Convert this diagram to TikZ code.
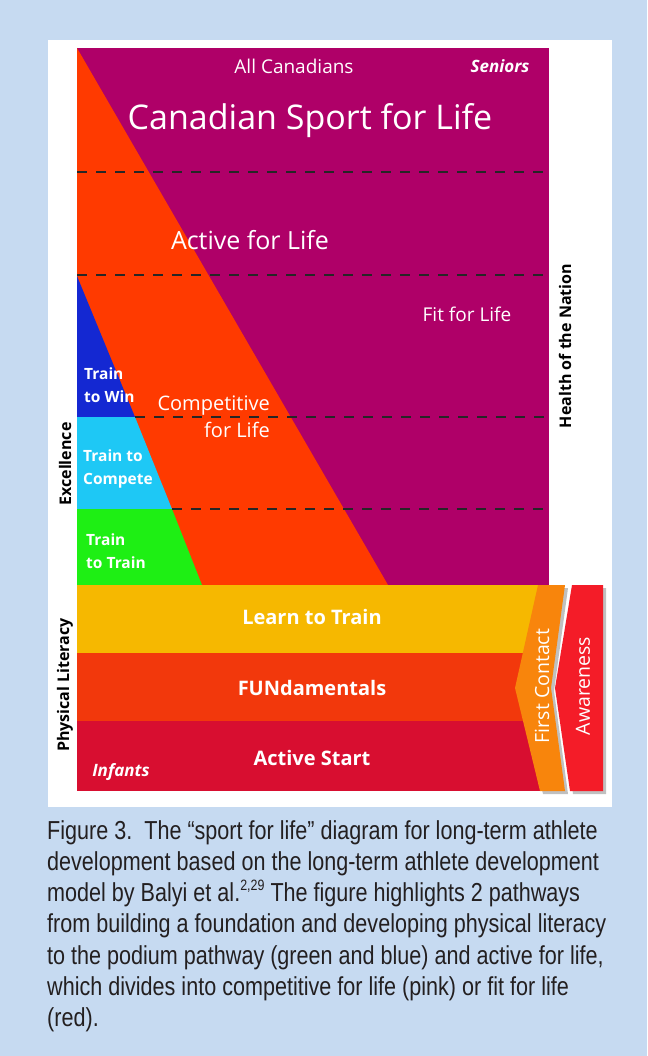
\documentclass[tikz,border=0pt]{standalone}
\usepackage{fontspec}
\setmainfont{Open Sans}
\newfontfamily\capfont[FakeStretch=0.83]{Liberation Sans}
\usetikzlibrary{shadows}

\definecolor{bgblue}{HTML}{C6DAF1}
\definecolor{plum}{HTML}{AF0068}
\definecolor{flame}{HTML}{FF3A00}
\definecolor{winblue}{HTML}{1428D2}
\definecolor{skyblue}{HTML}{1EC8F5}
\definecolor{limeg}{HTML}{1EEF14}
\definecolor{gold}{HTML}{F6B800}
\definecolor{fundred}{HTML}{F2380C}
\definecolor{crimson}{HTML}{D80E30}
\definecolor{contact}{HTML}{F8850C}
\definecolor{aware}{HTML}{F41C28}
\definecolor{captext}{HTML}{231F20}

\tikzset{
  lbl/.style={text=white, inner sep=0pt},
  stagelbl/.style={text=white, inner sep=0pt, anchor=west, align=left,
    font=\bfseries\fontsize{15.5}{22.5}\selectfont},
  bandlbl/.style={text=white, inner sep=0pt, font=\bfseries\fontsize{20}{24}\selectfont},
  sidelbl/.style={text=black, inner sep=0pt, rotate=90, font=\bfseries\fontsize{16}{20}\selectfont},
  arrowlbl/.style={text=white, inner sep=0pt, rotate=90, font=\fontsize{19.5}{22}\selectfont},
  stagedash/.style={draw=black!85, line width=1.2pt, dash pattern=on 10pt off 9pt},
  capline/.style={text=captext, inner sep=0pt, anchor=base west,
    font=\capfont\fontsize{26}{31.3}\selectfont},
  chevshadow/.style={drop shadow={shadow xshift=3pt, shadow yshift=-3pt, opacity=0.35, fill=black!70}}
}

\begin{document}
\begin{tikzpicture}[x=1pt,y=-1pt]
  % page and panel
  \fill[bgblue] (0,0) rectangle (647,1056);
  \fill[white] (48,40) rectangle (612,807);

  % upper block: active for life / fit for life
  \fill[plum] (77,48) rectangle (549,585);
  \fill[flame] (77,48) -- (388,585) -- (77,585) -- cycle;
  % podium pathway
  \fill[winblue] (77,276) -- (135,417) -- (77,417) -- cycle;
  \fill[skyblue] (77,417) -- (135,417) -- (172,509) -- (77,509) -- cycle;
  \fill[limeg] (77,509) -- (172,509) -- (202,585) -- (77,585) -- cycle;

  % stage boundaries
  \coordinate (d1l) at (77,172);  \coordinate (d1r) at (549,172);
  \coordinate (d2l) at (77,275);  \coordinate (d2r) at (549,275);
  \coordinate (d3l) at (135,417); \coordinate (d3r) at (549,417);
  \coordinate (d4l) at (172,509); \coordinate (d4r) at (549,509);
  \draw[stagedash] (d1l) -- (d1r);
  \draw[stagedash] (d2l) -- (d2r);
  \draw[stagedash] (d3l) -- (d3r);
  \draw[stagedash] (d4l) -- (d4r);

  % foundation bands
  \fill[gold] (77,585) rectangle (545,653);
  \fill[fundred] (77,653) rectangle (545,721);
  \fill[crimson] (77,721) rectangle (545,791);

  % entry chevrons
  \fill[contact, chevshadow] (538,585) -- (565,585) -- (551,688) -- (565,791)
    -- (540,791) -- (515,688) -- cycle;
  \fill[aware, chevshadow] (572,585) -- (603,585) -- (603,791) -- (570,791)
    -- (555,688) -- cycle;

  % labels in the upper block
  \node[lbl, font=\fontsize{19}{22}\selectfont] (allcan) at (294,66) {All Canadians};
  \node[lbl, font=\bfseries\itshape\fontsize{17}{20}\selectfont] (seniors) at (500,66) {Seniors};
  \node[lbl, font=\fontsize{34}{40}\selectfont] (csfl) at (310,121) {Canadian Sport for Life};
  \node[lbl, font=\fontsize{25}{30}\selectfont] (afl) at (250,240) {Active for Life};
  \node[lbl, font=\fontsize{19}{22}\selectfont] (ffl) at (467,314) {Fit for Life};
  \node[lbl, anchor=east, align=right, font=\fontsize{20}{27}\selectfont] (cfl)
    at (270,417) {Competitive\\for Life};

  % podium stages
  \node[stagelbl] (ttw) at (84,385) {Train\\to Win};
  \node[stagelbl] (ttc) at (83,469) {Train to\\Compete};
  \node[stagelbl] (ttt) at (86,551) {Train\\to Train};

  % foundation stages
  \node[bandlbl] (ltt) at (312,617) {Learn to Train};
  \node[bandlbl] (fun) at (312,688) {FUNdamentals};
  \node[bandlbl] (as) at (312,758) {Active Start};
  \node[lbl, font=\bfseries\itshape\fontsize{17}{20}\selectfont] (inf) at (121,772) {Infants};

  % side captions
  \node[sidelbl] (exc) at (65,464) {Excellence};
  \node[sidelbl] (pl) at (65,685) {Physical Literacy};
  \node[sidelbl] (hon) at (565,346) {Health of the Nation};
  \node[arrowlbl] (fc) at (542,686) {First Contact};
  \node[arrowlbl] (aw) at (583,686) {Awareness};

  % figure caption
  \node[capline] (cap1) at (47,839) {Figure 3.\ \ The “sport for life” diagram for long-term athlete};
  \node[capline] (cap2) at (47,870.3) {development based on the long-term athlete development};
  \node[capline] (cap3) at (47,901.6) {model by Balyi et al.\raisebox{0.42em}{\fontsize{15}{15}\selectfont 2,29} The figure highlights 2 pathways};
  \node[capline] (cap4) at (47,932.9) {from building a foundation and developing physical literacy};
  \node[capline] (cap5) at (47,964.2) {to the podium pathway (green and blue) and active for life,};
  \node[capline] (cap6) at (47,995.5) {which divides into competitive for life (pink) or fit for life};
  \node[capline] (cap7) at (47,1026.8) {(red).};
\end{tikzpicture}
\end{document}
